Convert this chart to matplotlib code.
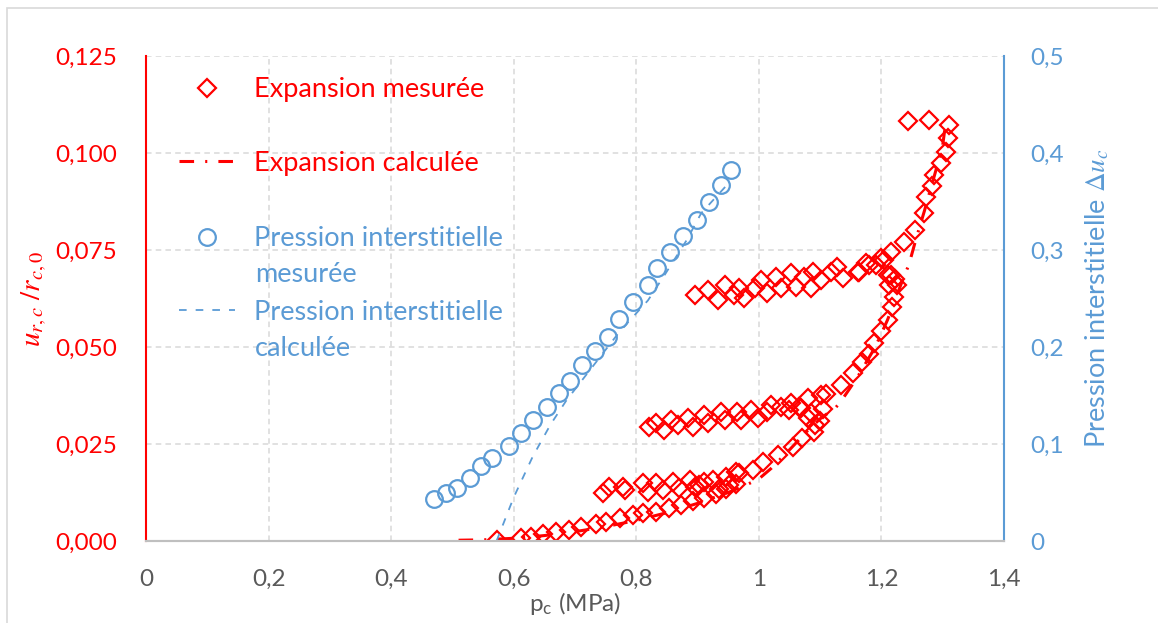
import numpy as np
import matplotlib
matplotlib.use('Agg')
import matplotlib.pyplot as plt
from matplotlib.ticker import FuncFormatter, MultipleLocator
from matplotlib.patches import Rectangle

plt.rcParams['font.family'] = ['Lato', 'DejaVu Sans']
plt.rcParams['mathtext.fontset'] = 'stix'
plt.rcParams['lines.scale_dashes'] = False

RED = '#FF0000'
BLUE = '#5B9BD5'
GREY = '#595959'

# measured expansion (p_c in MPa, u_rc / r_c0)
p_mes = [0.573, 0.612, 0.629, 0.648, 0.669, 0.691, 0.710, 0.734, 0.751, 0.773,
         0.794, 0.811, 0.832, 0.854, 0.873, 0.892, 0.911, 0.930, 0.946, 0.963,
         0.968,
         0.946, 0.925, 0.911, 0.887, 0.860, 0.832, 0.811, 0.778, 0.756,
         0.746, 0.781, 0.819, 0.843, 0.870, 0.895, 0.903, 0.935, 0.951, 0.963,
         0.990, 1.006, 1.031, 1.055, 1.071, 1.090, 1.100, 1.104, 1.101,
         1.080, 1.066, 1.052, 1.036, 1.020, 0.987, 0.965, 0.938, 0.911, 0.884,
         0.857, 0.832, 0.821,
         0.846, 0.868, 0.892, 0.917, 0.944, 0.971, 0.998, 1.014, 1.050, 1.069,
         1.080, 1.091, 1.085,
         1.110, 1.134, 1.153, 1.169, 1.180, 1.188, 1.199, 1.210, 1.218, 1.221,
         1.225, 1.215, 1.205,
         1.191, 1.175, 1.161, 1.128, 1.118, 1.088, 1.052, 1.028, 1.004, 0.993,
         0.968, 0.944, 0.917, 0.895,
         0.933, 0.960, 0.976, 1.014, 1.036, 1.061, 1.074, 1.085, 1.101, 1.137,
         1.164, 1.180, 1.199, 1.210, 1.213, 1.222,
         1.215, 1.237, 1.254, 1.270, 1.272, 1.282, 1.286, 1.297, 1.305, 1.308,
         1.311,
         1.278, 1.243]
u_mes = [0.0002, 0.0007, 0.0011, 0.0017, 0.0024, 0.0028, 0.0037, 0.0045, 0.0048, 0.0060,
         0.0066, 0.0071, 0.0074, 0.0086, 0.0093, 0.0104, 0.0110, 0.0121, 0.0134, 0.0146,
         0.0174,
         0.0166, 0.0157, 0.0153, 0.0157, 0.0153, 0.0149, 0.0149, 0.0138, 0.0140,
         0.0125, 0.0131, 0.0127, 0.0131, 0.0136, 0.0140, 0.0144, 0.0135, 0.0145, 0.0179,
         0.0183, 0.0204, 0.0222, 0.0243, 0.0265, 0.0282, 0.0310, 0.0340, 0.0376,
         0.0368, 0.0346, 0.0355, 0.0346, 0.0351, 0.0338, 0.0333, 0.0333, 0.0325, 0.0316,
         0.0312, 0.0303, 0.0295,
         0.0286, 0.0299, 0.0295, 0.0303, 0.0312, 0.0312, 0.0316, 0.0333, 0.0338, 0.0342,
         0.0316, 0.0299, 0.0330,
         0.0378, 0.0402, 0.0432, 0.0462, 0.0483, 0.0510, 0.0540, 0.0570, 0.0604, 0.0630,
         0.0660, 0.0686, 0.0724,
         0.0711, 0.0716, 0.0694, 0.0707, 0.0694, 0.0694, 0.0690, 0.0681, 0.0673, 0.0651,
         0.0651, 0.0660, 0.0647, 0.0634,
         0.0621, 0.0634, 0.0626, 0.0638, 0.0651, 0.0655, 0.0681, 0.0651, 0.0673, 0.0677,
         0.0694, 0.0711, 0.0729, 0.0686, 0.0660, 0.0675,
         0.0746, 0.0771, 0.0802, 0.0845, 0.0887, 0.0915, 0.0943, 0.0973, 0.1003, 0.1038,
         0.1072,
         0.1085, 0.1082]

# calculated expansion
p_calc = [0.510, 0.550, 0.600, 0.650, 0.700, 0.750, 0.800, 0.850, 0.900, 0.950,
          0.980, 1.000, 1.020, 1.050, 1.080, 1.100, 1.126, 1.134, 1.160, 1.190,
          1.210, 1.234, 1.245, 1.256, 1.270, 1.289, 1.300, 1.305]
u_calc = [0.0002, 0.0003, 0.0007, 0.0014, 0.0024, 0.0037, 0.0053, 0.0073, 0.0097, 0.0125,
          0.0145, 0.0160, 0.0187, 0.0235, 0.0285, 0.0315, 0.0345, 0.0360, 0.0420, 0.0500,
          0.0570, 0.0670, 0.0713, 0.0776, 0.0850, 0.0956, 0.1020, 0.1080]

# measured pore pressure (MPa)
p_pp = [0.470, 0.489, 0.507, 0.528, 0.546, 0.565, 0.592, 0.612, 0.631, 0.655,
        0.674, 0.692, 0.712, 0.733, 0.754, 0.771, 0.794, 0.819, 0.834, 0.855,
        0.877, 0.899, 0.918, 0.939, 0.954]
du_pp = [0.043, 0.049, 0.055, 0.065, 0.077, 0.086, 0.098, 0.111, 0.125, 0.138,
         0.153, 0.165, 0.181, 0.196, 0.210, 0.229, 0.246, 0.264, 0.281, 0.298,
         0.314, 0.331, 0.349, 0.367, 0.382]

# calculated pore pressure
p_ppc = [0.572, 0.600, 0.631, 0.660, 0.686, 0.729, 0.773, 0.819, 0.848, 0.882,
         0.906, 0.945]
du_ppc = [0.000, 0.045, 0.087, 0.120, 0.145, 0.180, 0.216, 0.248, 0.276, 0.310,
          0.338, 0.365]

fig = plt.figure(figsize=(11.58, 6.23), dpi=100)
ax = fig.add_axes([146 / 1158, 1 - 541 / 623, 858 / 1158, 485 / 623])
ax2 = ax.twinx()

fig.patches.append(Rectangle((7 / 1158, -0.1), 1.2, 1.1 - 8 / 623, transform=fig.transFigure,
                             fill=False, ec='#D9D9D9', lw=1.2))

l1, = ax.plot(p_mes, u_mes, ls='none', marker='D', ms=9.5, mfc='none', mec=RED, mew=1.6,
              zorder=3)
l2, = ax.plot(p_calc, u_calc, color=RED, lw=2.2, dashes=[10.5, 8, 1.5, 8], zorder=4)
l3, = ax2.plot(p_pp, du_pp, ls='none', marker='o', ms=12, mfc='none', mec=BLUE, mew=1.6)
l4, = ax2.plot(p_ppc, du_ppc, color=BLUE, lw=1.3, dashes=[5.5, 6.5])

ax.set_xlim(0, 1.4)
ax.set_ylim(0, 0.125)
ax2.set_ylim(0, 0.5)
ax.xaxis.set_major_locator(MultipleLocator(0.2))
ax.yaxis.set_major_locator(MultipleLocator(0.025))
ax2.yaxis.set_major_locator(MultipleLocator(0.1))


def comma(fmt):
    return FuncFormatter(lambda v, pos: fmt(v).replace('.', ','))


ax.xaxis.set_major_formatter(comma(lambda v: ('%.1f' % v).rstrip('0').rstrip('.')))
ax.yaxis.set_major_formatter(comma(lambda v: '%.3f' % v))
ax2.yaxis.set_major_formatter(comma(lambda v: ('%.1f' % v).rstrip('0').rstrip('.')))

ax.grid(True, color='#D9D9D9', ls=(0, (4, 3)), lw=1.1)
ax.set_axisbelow(True)

for a in (ax, ax2):
    a.spines['top'].set_visible(False)
    a.spines['bottom'].set_color('#BFBFBF')
    a.spines['bottom'].set_linewidth(1.5)
ax.spines['left'].set_color(RED)
ax.spines['left'].set_linewidth(1.5)
ax.spines['right'].set_visible(False)
ax2.spines['left'].set_visible(False)
ax2.spines['right'].set_color(BLUE)
ax2.spines['right'].set_linewidth(1.5)

ax.tick_params(axis='x', length=0, pad=20, labelsize=17.5, labelcolor=GREY)
ax.tick_params(axis='y', length=0, pad=21, labelsize=17.5, labelcolor=RED)
ax2.tick_params(axis='y', length=0, pad=19, labelsize=17.5, labelcolor=BLUE)

ax.set_xlabel(r'p$_\mathregular{c}$ (MPa)', fontsize=17.5, color=GREY, labelpad=0)
ax.set_ylabel(r'$u_{r,c}\ /r_{c,0}$', fontsize=21, color=RED, labelpad=4)
ax2.set_ylabel(r'Pression interstitielle $\Delta u_c$', fontsize=19.5, color=BLUE,
               labelpad=14)

# legend, one entry at a time so that the rows sit like the original
W, H = 858.0, 485.0
entries = [(l1, 'Expansion mesurée', RED, 90, None),
           (l2, 'Expansion calculée', RED, 163, None),
           (l3, 'Pression interstitielle', BLUE, 239, 'mesurée'),
           (l4, 'Pression interstitielle', BLUE, 312, 'calculée')]
legs = []
for h, lab, col, yc, extra in entries:
    leg = ax2.legend([h], [lab], loc='center left',
                     bbox_to_anchor=((179 - 146) / W, (541 - yc) / H),
                     frameon=False, fontsize=19.5, labelcolor=col, handlelength=2.05,
                     handletextpad=0.72, borderpad=0, borderaxespad=0)
    legs.append(leg)
    if extra:
        ax2.text((255 - 146) / W, (541 - yc - 36) / H, extra, transform=ax2.transAxes,
                 fontsize=19.5, color=col, va='center', ha='left')
for leg in legs[:-1]:
    ax2.add_artist(leg)

fig.savefig('out.png', dpi=100)
